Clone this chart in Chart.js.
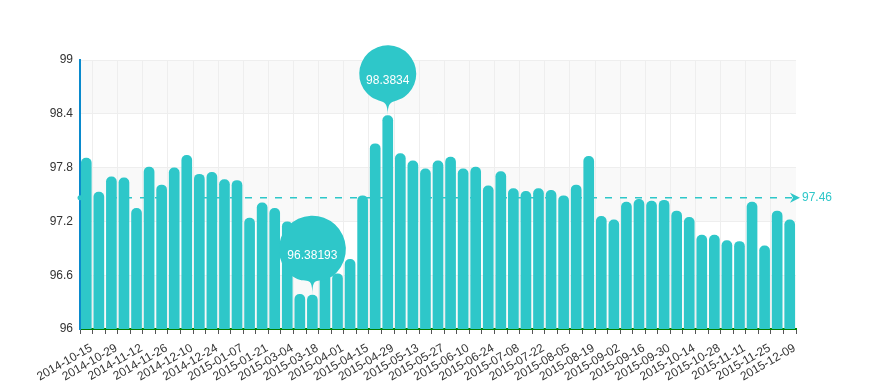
<!DOCTYPE html>
<html>
<head>
<meta charset="utf-8">
<script src="https://cdn.jsdelivr.net/npm/chart.js@4/dist/chart.umd.min.js"></script>
<style>
  html, body { margin: 0; padding: 0; background: #ffffff; }
  #wrap { width: 876px; height: 388px; position: relative; }
</style>
</head>
<body>
<div id="wrap"><canvas id="c" width="876" height="388"></canvas></div>
<script>
const categories = [
  "2014-10-15","2014-10-22","2014-10-29","2014-11-05","2014-11-12","2014-11-19","2014-11-26","2014-12-03",
  "2014-12-10","2014-12-17","2014-12-24","2014-12-31","2015-01-07","2015-01-14","2015-01-21","2015-01-28",
  "2015-03-04","2015-03-11","2015-03-18","2015-03-25","2015-04-01","2015-04-08","2015-04-15","2015-04-22",
  "2015-04-29","2015-05-06","2015-05-13","2015-05-20","2015-05-27","2015-06-03","2015-06-10","2015-06-17",
  "2015-06-24","2015-07-01","2015-07-08","2015-07-15","2015-07-22","2015-07-29","2015-08-05","2015-08-12",
  "2015-08-19","2015-08-26","2015-09-02","2015-09-09","2015-09-16","2015-09-23","2015-09-30","2015-10-07",
  "2015-10-14","2015-10-21","2015-10-28","2015-11-04","2015-11-11","2015-11-18","2015-11-25","2015-12-02",
  "2015-12-09"
];
const values = [
  97.91, 97.53, 97.70, 97.69, 97.35, 97.81, 97.61, 97.80,
  97.94, 97.73, 97.75, 97.67, 97.66, 97.24, 97.41, 97.35,
  97.20, 96.39, 96.38193, 96.62, 96.62, 96.78, 97.49, 98.07,
  98.3834, 97.96, 97.88, 97.79, 97.88, 97.92, 97.79, 97.81,
  97.60, 97.76, 97.57, 97.54, 97.57, 97.55, 97.49, 97.61,
  97.93, 97.26, 97.22, 97.42, 97.45, 97.43, 97.44, 97.32,
  97.25, 97.05, 97.05, 96.99, 96.98, 97.42, 96.93, 97.32,
  97.22
];
const yMin = 96;
const yMax = 99;
const yStep = 0.6;

const TEAL = '#2ec7c9';
const FONT = '"Liberation Sans", Arial, sans-serif';

const bandsPlugin = {
  id: 'bands',
  beforeDraw(chart) {
    const { ctx, chartArea, scales } = chart;
    const y = scales.y;
    ctx.save();
    let k = 0;
    for (let v = yMin; v < yMax - 1e-9; v += yStep, k++) {
      if (k % 2 === 0) {
        const top = y.getPixelForValue(Math.min(v + yStep, yMax));
        const bot = y.getPixelForValue(v);
        ctx.fillStyle = '#f9f9f9';
        ctx.fillRect(chartArea.left, top, chartArea.right - chartArea.left, bot - top);
      }
    }
    ctx.restore();
  }
};

function drawPin(ctx, x, tipY, r, H, text) {
  const D = H - r;
  const cy = tipY - D;
  const dy = r * r / D;
  const angle = Math.asin(dy / r);
  const dx = Math.cos(angle) * r;
  const tanX = Math.sin(angle);
  const tanY = Math.cos(angle);
  const cpLen = r * 0.6;
  const cpLen2 = r * 0.7;
  ctx.beginPath();
  ctx.moveTo(x - dx, cy + dy);
  ctx.arc(x, cy, r, Math.PI - angle, Math.PI * 2 + angle);
  ctx.bezierCurveTo(x + dx - tanX * cpLen, cy + dy + tanY * cpLen, x, tipY - cpLen2, x, tipY);
  ctx.bezierCurveTo(x, tipY - cpLen2, x - dx + tanX * cpLen, cy + dy + tanY * cpLen, x - dx, cy + dy);
  ctx.closePath();
  ctx.fillStyle = TEAL;
  ctx.fill();
  ctx.fillStyle = '#ffffff';
  ctx.font = '12px ' + FONT;
  ctx.textAlign = 'center';
  ctx.textBaseline = 'middle';
  ctx.fillText(text, x, tipY - H / 2);
}

const marksPlugin = {
  id: 'marks',
  afterDatasetsDraw(chart) {
    const { ctx, chartArea, scales } = chart;
    const xs = scales.x, ys = scales.y;
    // average line
    const avg = values.reduce((a, b) => a + b, 0) / values.length;
    const ay = ys.getPixelForValue(avg);
    const x0 = chartArea.left;
    const x1 = chartArea.right + 4;
    ctx.save();
    ctx.strokeStyle = TEAL;
    ctx.lineWidth = 1.5;
    ctx.setLineDash([7, 8]);
    ctx.beginPath();
    ctx.moveTo(x0, ay);
    ctx.lineTo(x1 - 8, ay);
    ctx.stroke();
    ctx.setLineDash([]);
    ctx.fillStyle = TEAL;
    ctx.beginPath();
    ctx.arc(x0, ay, 2.5, 0, Math.PI * 2);
    ctx.fill();
    ctx.beginPath();
    ctx.moveTo(x1, ay);
    ctx.lineTo(x1 - 10, ay - 5);
    ctx.lineTo(x1 - 7, ay);
    ctx.lineTo(x1 - 10, ay + 5);
    ctx.closePath();
    ctx.fill();
    ctx.font = '12px ' + FONT;
    ctx.textAlign = 'left';
    ctx.textBaseline = 'middle';
    ctx.fillText(avg.toFixed(2), x1 + 2, ay);

    // max / min pins
    let iMax = 0, iMin = 0;
    values.forEach((v, i) => {
      if (v > values[iMax]) iMax = i;
      if (v < values[iMin]) iMin = i;
    });
    drawPin(ctx, xs.getPixelForValue(iMax), ys.getPixelForValue(values[iMax]), 28.5, 70, String(values[iMax]));
    drawPin(ctx, xs.getPixelForValue(iMin), ys.getPixelForValue(values[iMin]), 33.5, 79, String(values[iMin]));
    ctx.restore();
  }
};

new Chart(document.getElementById('c'), {
  type: 'bar',
  data: {
    labels: categories,
    datasets: [{
      data: values,
      backgroundColor: TEAL,
      borderWidth: 0,
      borderRadius: 5,
      borderSkipped: false,
      barPercentage: 0.85,
      categoryPercentage: 1.0
    }]
  },
  options: {
    responsive: false,
    animation: false,
    devicePixelRatio: 1,
    layout: { padding: { top: 60, right: 80, left: 0, bottom: 0 } },
    plugins: { legend: { display: false }, tooltip: { enabled: false } },
    scales: {
      x: {
        offset: true,
        afterFit(scale) { scale.height = 59; },
        grid: {
          offset: true,
          color: (c) => (c.index % 2 === 1 ? '#eeeeee' : 'rgba(0,0,0,0)'),
          tickColor: '#555555',
          tickLength: 5,
          drawTicks: true
        },
        border: { display: true, color: '#008000', width: 2 },
        ticks: {
          autoSkip: false,
          minRotation: 30,
          maxRotation: 30,
          padding: 7,
          labelOffset: 5,
          color: '#333333',
          font: { family: FONT, size: 12 },
          callback: function (val, i) { return i % 2 === 0 ? this.getLabelForValue(val) : ''; }
        }
      },
      y: {
        min: yMin,
        max: yMax,
        afterFit(scale) { scale.width = 80; },
        grid: { color: '#eeeeee', drawTicks: false },
        border: { display: true, color: '#0a8acd', width: 2 },
        ticks: {
          stepSize: yStep,
          padding: 7,
          color: '#333333',
          font: { family: FONT, size: 12 },
          callback: (v) => String(Number(v.toFixed(1)))
        }
      }
    }
  },
  plugins: [bandsPlugin, marksPlugin]
});
</script>
</body>
</html>
